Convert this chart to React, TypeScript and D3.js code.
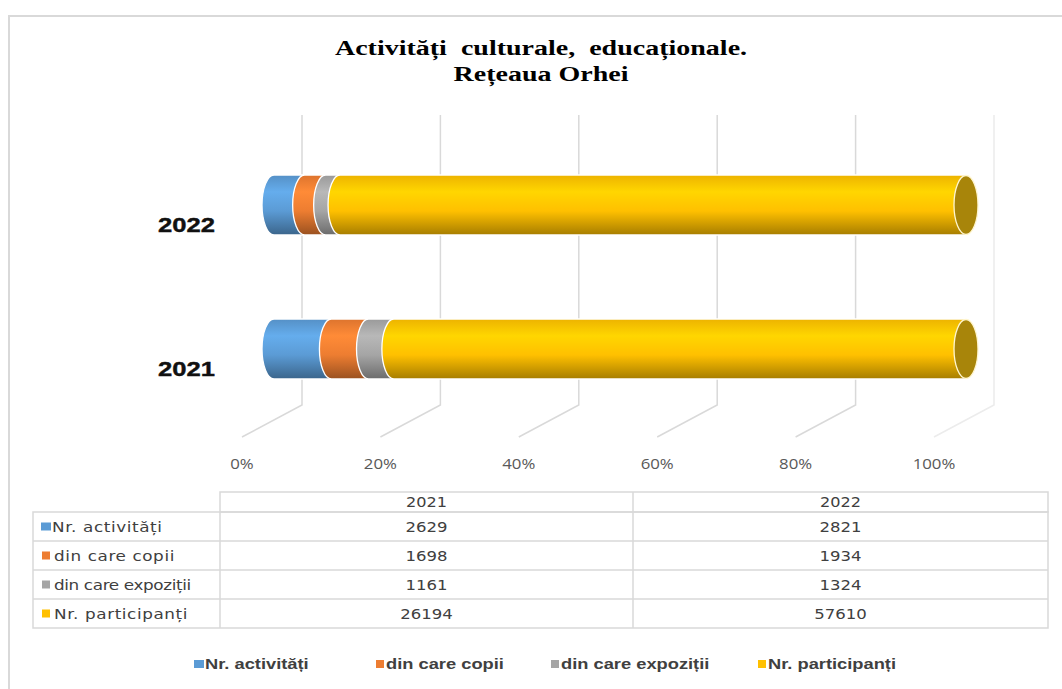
import React from 'react';
import * as d3 from 'd3';

const YEARS = ['2021', '2022'];
const BAR_ORDER = ['2022', '2021'];
const SERIES = ['Nr. activități', 'din care copii', 'din care expoziții', 'Nr. participanți'];
const ACTIVITATI = [2629, 2821];
const COPII = [1698, 1934];
const EXPOZITII = [1161, 1324];
const PARTICIPANTI = [26194, 57610];
const TICKS = [0, 0.2, 0.4, 0.6, 0.8, 1];
const COLORS = ['#5b9bd5', '#ed7d31', '#a5a5a5', '#ffc000'];

const W = 1062;
const H = 689;
const BAR_H = 60;
const RX = 12;
const BACK_DX = 28;
const FRONT_DX = -32;
const GRID_TOP = 115;
const GRID_KINK = 405;
const GRID_BOTTOM = 437;

const rows = YEARS.map((y, i) => ({
  year: y,
  [SERIES[0]]: ACTIVITATI[i],
  [SERIES[1]]: COPII[i],
  [SERIES[2]]: EXPOZITII[i],
  [SERIES[3]]: PARTICIPANTI[i],
}));

const tableValues = [ACTIVITATI, COPII, EXPOZITII, PARTICIPANTI];

function segPath(x0: number, x1: number, cy: number) {
  const t = cy - BAR_H / 2, b = cy + BAR_H / 2, ry = BAR_H / 2;
  return `M${x0},${t}L${x1},${t}A${RX},${ry} 0 0 1 ${x1},${b}L${x0},${b}A${RX},${ry} 0 0 1 ${x0},${t}Z`;
}

// the original picture is stretched sideways, so text gets a horizontal scale
function SText({ x, y, sx, children, ...rest }: any) {
  return (
    <text transform={`translate(${x},${y}) scale(${sx},1)`} {...rest}>
      {children}
    </text>
  );
}

export default function App() {
  const x = d3.scaleLinear().domain([0, 1]).range([274, 966]);
  const y = d3.scalePoint<string>().domain(BAR_ORDER).range([205, 349]);
  const stack = d3.stack<any>().keys(SERIES).offset(d3.stackOffsetExpand);
  const stacked = stack(rows as any);
  const fmt = d3.format('.0%');

  const tableCols = [220, 633, 1048];
  const tableRows = [492, 512, 541, 570, 599, 628];
  const grid = '#d9d9d9';

  const legendX = [194, 376, 551, 758];

  return (
    <svg width={W} height={H} style={{ position: 'absolute', left: 0, top: 0, background: '#fff' }}>
      <defs>
        {COLORS.map((c, i) => {
          const base = d3.color(c)!;
          return (
            <linearGradient key={i} id={`g${i}`} x1="0" y1="0" x2="0" y2="1">
              <stop offset="0%" stopColor={base.darker(0.2).formatHex()} />
              <stop offset="28%" stopColor={base.brighter(0.3).formatHex()} />
              <stop offset="60%" stopColor={base.formatHex()} />
              <stop offset="100%" stopColor={base.darker(1.2).formatHex()} />
            </linearGradient>
          );
        })}
      </defs>

      {/* outer chart border */}
      <path d={`M9,${H + 5}V16H${W + 5}`} fill="none" stroke="#d9d9d9" strokeWidth={2} />

      {/* title */}
      <g fontFamily="'Liberation Serif', serif" fontWeight="bold" fontSize={20} fill="#000" textAnchor="middle">
        <SText x={541} y={55} sx={1.4} xmlSpace="preserve">Activități  culturale,  educaționale.</SText>
        <SText x={541} y={81} sx={1.4}>Rețeaua Orhei</SText>
      </g>

      {/* 3D gridlines */}
      {TICKS.map((t, i) => {
        const bx = x(t) + BACK_DX;
        const fx = x(t) + FRONT_DX;
        return (
          <path
            key={i}
            d={`M${bx},${GRID_TOP}V${GRID_KINK}L${fx},${GRID_BOTTOM}`}
            fill="none"
            stroke={t === 1 ? '#ececec' : grid}
            strokeWidth={1.5}
          />
        );
      })}

      {/* tick labels */}
      <g fontFamily="'Open Sans', sans-serif" fontSize={15} fill="#595959" textAnchor="middle">
        {TICKS.map((t, i) => (
          <SText key={i} x={x(t) + FRONT_DX} y={469} sx={1.12}>{fmt(t)}</SText>
        ))}
      </g>

      {/* category labels */}
      <g fontFamily="'Liberation Sans', Arial, sans-serif" fontWeight="bold" fontSize={20} fill="#111" textAnchor="end">
        {BAR_ORDER.map(yr => (
          <SText key={yr} x={215} y={(y(yr) as number) + 27} sx={1.28} stroke="#111" strokeWidth={0.4}>{yr}</SText>
        ))}
      </g>

      {/* cylinder bars */}
      {BAR_ORDER.map(yr => {
        const idx = YEARS.indexOf(yr);
        const cy = y(yr) as number;
        return (
          <g key={yr}>
            {stacked.map((s, si) => {
              const d = s[idx];
              return (
                <path key={si} d={segPath(x(d[0]), x(d[1]), cy)} fill={`url(#g${si})`} stroke="#fff" strokeWidth={1.3} />
              );
            })}
            <ellipse
              cx={x(stacked[stacked.length - 1][idx][1])}
              cy={cy}
              rx={RX}
              ry={BAR_H / 2 - 0.5}
              fill="#a8850a"
              stroke="#fff6d0"
              strokeWidth={1.3}
            />
          </g>
        );
      })}

      {/* data table */}
      <g stroke={grid} strokeWidth={1.5} fill="none">
        <rect x={tableCols[0]} y={tableRows[0]} width={tableCols[2] - tableCols[0]} height={tableRows[1] - tableRows[0]} />
        <rect x={33} y={tableRows[1]} width={tableCols[2] - 33} height={tableRows[5] - tableRows[1]} />
        {tableRows.slice(2, 5).map((r, i) => (
          <line key={i} x1={33} x2={tableCols[2]} y1={r} y2={r} />
        ))}
        <line x1={tableCols[0]} x2={tableCols[0]} y1={tableRows[1]} y2={tableRows[5]} />
        <line x1={tableCols[1]} x2={tableCols[1]} y1={tableRows[0]} y2={tableRows[5]} />
      </g>
      <g fontFamily="'DejaVu Sans', sans-serif" fontSize={14} fill="#404040">
        {YEARS.map((yr, ci) => (
          <SText key={yr} x={(tableCols[ci] + tableCols[ci + 1]) / 2} y={tableRows[0] + 15} sx={1.15} textAnchor="middle">{yr}</SText>
        ))}
        {SERIES.map((s, ri) => {
          const ty = (tableRows[ri + 1] + tableRows[ri + 2]) / 2;
          return (
            <g key={s}>
              <rect x={ri === 0 ? 41 : 42} y={ty - 4} width={ri === 0 ? 10 : 8} height={8} fill={COLORS[ri]} stroke="none" />
              <SText x={ri === 0 ? 52 : 54} y={ty + 5} sx={1.2} letterSpacing={ri === 2 ? -0.3 : 0.5}>{s}</SText>
              {YEARS.map((yr, ci) => (
                <SText key={yr} x={(tableCols[ci] + tableCols[ci + 1]) / 2} y={ty + 5} sx={1.18} textAnchor="middle">
                  {tableValues[ri][ci]}
                </SText>
              ))}
            </g>
          );
        })}
      </g>

      {/* legend */}
      <g fontFamily="'Liberation Sans', Arial, sans-serif" fontWeight="bold" fontSize={15} fill="#404040">
        {SERIES.map((s, i) => (
          <g key={s}>
            <rect x={legendX[i]} y={660} width={i === 0 ? 10 : 8} height={8} fill={COLORS[i]} />
            <SText x={legendX[i] + (i === 0 ? 11 : 10)} y={669} sx={1.22}>{s}</SText>
          </g>
        ))}
      </g>
    </svg>
  );
}
